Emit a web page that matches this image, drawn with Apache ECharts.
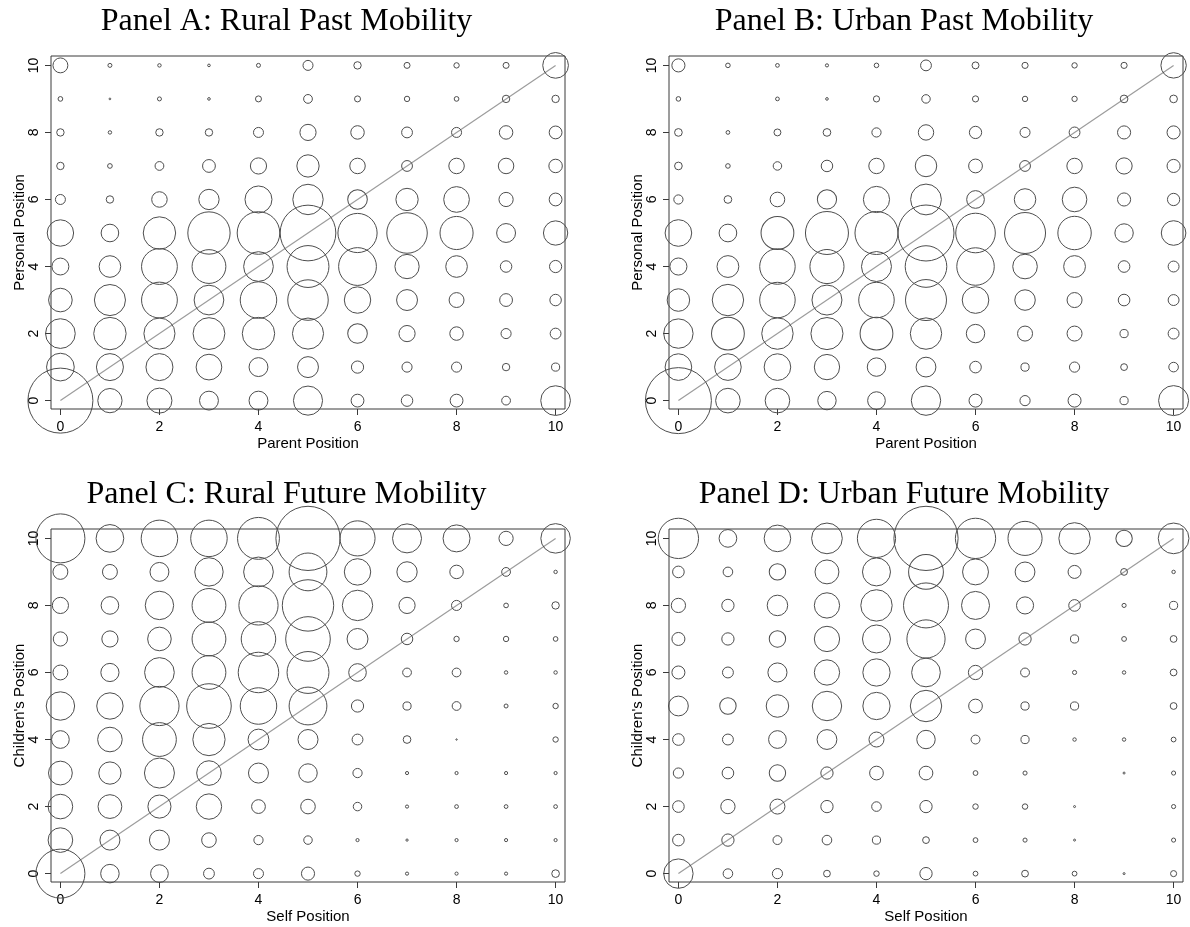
<!DOCTYPE html>
<html>
<head>
<meta charset="utf-8">
<title>Past and Future Mobility</title>
<script src="https://cdn.jsdelivr.net/npm/echarts@6/dist/echarts.min.js"></script>
<style>
  html, body { margin: 0; padding: 0; background: #fff; }
  #chart { width: 1190px; height: 927px; }
</style>
</head>
<body>
<div id="chart"></div>
<script>
// Position scale 0..10 on both axes
const colLevels = [0, 1, 2, 3, 4, 5, 6, 7, 8, 9, 10];
// Rows listed from the top of each plot (position 10) down to position 0
const rowLevels = [10, 9, 8, 7, 6, 5, 4, 3, 2, 1, 0];
const tickValues = [0, 2, 4, 6, 8, 10];

// Share of respondents in each (x, y) cell; bubble area is proportional to the share
const ruralPast = [
  [2.22, 0.16, 0.12, 0.07, 0.16, 1.00, 0.55, 0.36, 0.29, 0.36, 6.60],
  [0.22, 0.03, 0.16, 0.07, 0.36, 0.77, 0.36, 0.29, 0.22, 0.55, 0.55],
  [0.55, 0.12, 0.55, 0.55, 1.00, 2.62, 1.82, 1.17, 1.00, 1.82, 1.64],
  [0.55, 0.22, 0.77, 1.64, 2.62, 4.97, 2.40, 1.17, 2.40, 2.40, 1.82],
  [1.00, 0.55, 2.40, 4.12, 7.29, 9.24, 3.84, 4.97, 6.60, 2.02, 1.64],
  [6.97, 3.10, 10.50, 17.89, 18.15, 31.02, 15.37, 16.40, 10.96, 3.57, 5.90],
  [2.86, 4.67, 12.82, 11.42, 8.82, 17.56, 14.29, 5.90, 4.67, 1.32, 1.49],
  [5.57, 9.67, 12.82, 8.82, 13.32, 16.40, 6.97, 4.37, 2.22, 1.64, 1.32],
  [8.82, 10.50, 9.67, 10.11, 10.50, 9.67, 3.84, 2.62, 1.82, 1.02, 1.17],
  [7.67, 7.29, 7.29, 6.60, 3.57, 4.37, 1.49, 1.02, 1.02, 0.55, 0.66],
  [42.25, 5.90, 6.25, 3.57, 3.57, 8.47, 1.64, 1.32, 1.64, 0.77, 8.82]
];

const urbanPast = [
  [1.72, 0.21, 0.14, 0.10, 0.21, 1.17, 0.48, 0.38, 0.29, 0.38, 6.45],
  [0.21, 0, 0.14, 0.07, 0.38, 0.72, 0.38, 0.29, 0.29, 0.59, 0.59],
  [0.59, 0.14, 0.48, 0.59, 0.85, 2.37, 1.51, 1.00, 1.17, 1.72, 1.72],
  [0.59, 0.21, 0.72, 1.32, 2.37, 4.62, 1.90, 1.17, 2.37, 2.62, 1.72],
  [0.85, 0.59, 2.13, 3.69, 6.86, 9.49, 3.13, 4.62, 6.05, 1.72, 1.51],
  [7.08, 3.13, 10.76, 18.49, 18.49, 31.36, 15.68, 16.81, 11.16, 3.39, 6.05],
  [2.92, 4.75, 12.60, 11.63, 9.00, 17.31, 14.06, 6.05, 4.75, 1.35, 1.19],
  [5.06, 9.86, 12.60, 9.00, 12.60, 16.81, 7.08, 4.20, 2.25, 1.35, 1.19],
  [8.64, 10.76, 9.86, 10.30, 10.76, 9.86, 3.39, 2.25, 2.25, 0.67, 1.19],
  [7.08, 7.08, 7.08, 6.40, 3.39, 3.92, 1.35, 0.67, 1.04, 0.46, 0.92],
  [43.56, 6.05, 6.05, 3.39, 3.13, 8.64, 1.69, 1.04, 1.69, 0.67, 9.00]
];

const ruralFuture = [
  [24.01, 7.67, 13.32, 13.32, 17.56, 41.22, 12.32, 8.41, 7.29, 2.02, 8.70],
  [2.22, 2.22, 3.57, 8.07, 8.82, 14.29, 6.97, 4.12, 1.82, 0.77, 0.12],
  [2.62, 3.10, 8.07, 11.42, 15.37, 26.42, 9.24, 2.62, 1.02, 0.22, 0.55],
  [2.02, 2.62, 5.57, 11.42, 11.90, 19.89, 4.37, 1.32, 0.29, 0.29, 0.22],
  [2.22, 3.31, 8.82, 11.42, 16.40, 17.56, 3.10, 0.77, 0.77, 0.12, 0.12],
  [8.07, 6.97, 15.37, 19.89, 13.32, 14.29, 1.49, 0.66, 0.77, 0.16, 0.29],
  [3.13, 6.05, 11.42, 10.43, 4.33, 4.00, 1.17, 0.59, 0.02, 0, 0.29],
  [5.66, 4.97, 9.00, 6.05, 4.00, 3.42, 0.85, 0.10, 0.10, 0.10, 0.10],
  [6.05, 5.66, 5.34, 6.45, 1.90, 2.13, 0.72, 0.10, 0.14, 0.14, 0.14],
  [6.05, 4.00, 4.00, 2.13, 0.85, 0.72, 0.10, 0.05, 0.10, 0.10, 0.10],
  [24.01, 3.42, 3.13, 1.17, 1.00, 1.72, 0.29, 0.10, 0.10, 0.10, 0.59]
];

const urbanFuture = [
  [16.24, 3.13, 7.08, 9.42, 14.59, 41.22, 16.24, 11.63, 9.86, 2.69, 9.42],
  [1.35, 0.92, 2.69, 5.71, 7.84, 12.11, 6.71, 3.92, 1.69, 0.46, 0.12],
  [2.04, 1.51, 4.20, 6.40, 9.86, 20.25, 7.84, 2.92, 1.35, 0.17, 0.67],
  [1.69, 1.51, 2.69, 6.40, 7.84, 14.59, 3.92, 1.51, 0.67, 0.23, 0.46],
  [1.69, 1.19, 3.65, 6.40, 7.45, 8.24, 2.04, 0.79, 0.17, 0.12, 0.46],
  [3.92, 2.69, 5.06, 8.64, 7.45, 9.86, 1.88, 0.67, 0.67, 0, 0.46],
  [1.35, 1.19, 3.13, 3.92, 2.25, 3.39, 0.79, 0.67, 0.12, 0.12, 0.23],
  [1.04, 1.35, 2.69, 1.51, 1.88, 1.88, 0.23, 0.17, 0, 0.04, 0.17],
  [1.35, 2.04, 2.25, 1.51, 0.92, 1.51, 0.30, 0.30, 0.04, 0, 0.17],
  [1.35, 1.51, 0.79, 0.92, 0.67, 0.46, 0.23, 0.17, 0.04, 0, 0.17],
  [8.64, 0.92, 1.04, 0.46, 0.30, 1.51, 0.23, 0.46, 0.23, 0.04, 0.37]
];

const panelTitles = [
  'Panel A: Rural Past Mobility',
  'Panel B: Urban Past Mobility',
  'Panel C: Rural Future Mobility',
  'Panel D: Urban Future Mobility'
];
const xNames = ['Parent Position', 'Parent Position', 'Self Position', 'Self Position'];
const yNames = ['Personal Position', 'Personal Position', "Children's Position", "Children's Position"];
const panels = [ruralPast, urbanPast, ruralFuture, urbanFuture];

// Frame geometry of the four plots (pixels)
const frames = [
  { left: 51,  top: 56,  titleX: 286.5, titleY: 22 },
  { left: 669, top: 56,  titleX: 904,   titleY: 22 },
  { left: 51,  top: 529, titleX: 286.5, titleY: 495 },
  { left: 669, top: 529, titleX: 904,   titleY: 495 }
];
const frameW = 514, frameH = 353;

const SANS = '"Liberation Sans", Arial, sans-serif';
const SERIF = '"Liberation Serif", "Times New Roman", serif';
const FRAME_COLOR = '#3a3a3a';

function cells(table) {
  const out = [];
  table.forEach((row, r) => {
    row.forEach((w, c) => {
      if (w > 0) out.push([colLevels[c], rowLevels[r], w]);
    });
  });
  return out;
}

const grid = [], xAxis = [], yAxis = [], series = [], graphic = [];

frames.forEach((f, i) => {
  grid.push({
    left: f.left, top: f.top, width: frameW, height: frameH,
    show: true, borderColor: FRAME_COLOR, borderWidth: 1,
    backgroundColor: 'transparent', containLabel: false
  });
  xAxis.push({
    type: 'value', gridIndex: i, min: -0.19, max: 10.19,
    name: xNames[i], nameLocation: 'middle', nameGap: 27, nameMoveOverlap: false,
    nameTextStyle: { fontFamily: SANS, fontSize: 15, color: '#000' },
    axisLine: { show: false, onZero: false },
    axisTick: { show: true, inside: false, length: 6, customValues: tickValues,
                lineStyle: { color: FRAME_COLOR, width: 1 } },
    axisLabel: { customValues: tickValues, margin: 11, fontFamily: SANS,
                 fontSize: 14, color: '#000' },
    splitLine: { show: false }
  });
  yAxis.push({
    type: 'value', gridIndex: i, min: -0.25, max: 10.28,
    name: yNames[i], nameLocation: 'middle', nameGap: 24, nameMoveOverlap: false,
    nameTextStyle: { fontFamily: SANS, fontSize: 15, color: '#000' },
    axisLine: { show: false, onZero: false },
    axisTick: { show: true, inside: false, length: 6, customValues: tickValues,
                lineStyle: { color: FRAME_COLOR, width: 1 } },
    axisLabel: { customValues: tickValues, margin: 10, rotate: 90, fontFamily: SANS,
                 fontSize: 14, color: '#000' },
    splitLine: { show: false }
  });
  // 45-degree line of no mobility
  series.push({
    type: 'line', xAxisIndex: i, yAxisIndex: i,
    data: [[0, 0], [10, 10]], symbol: 'none', silent: true,
    lineStyle: { color: '#9c9c9c', width: 1.2 }, z: 2, animation: false
  });
  series.push({
    type: 'scatter', xAxisIndex: i, yAxisIndex: i,
    data: cells(panels[i]), clip: false, silent: true, animation: false,
    symbol: 'circle',
    symbolSize: (v) => 10 * Math.sqrt(v[2]),
    itemStyle: { color: 'rgba(0,0,0,0)', borderColor: '#4d4d4d', borderWidth: 1, opacity: 1 },
    z: 3
  });
  graphic.push({
    type: 'text', x: f.titleX, y: f.titleY, silent: true,
    style: { text: panelTitles[i], font: '32px ' + SERIF, fill: '#000',
             align: 'center', verticalAlign: 'middle' }
  });
});

const chart = echarts.init(document.getElementById('chart'), null, { renderer: 'canvas' });
chart.setOption({
  backgroundColor: '#fff',
  animation: false,
  grid, xAxis, yAxis, series, graphic,
  tooltip: { show: false }
});
</script>
</body>
</html>
